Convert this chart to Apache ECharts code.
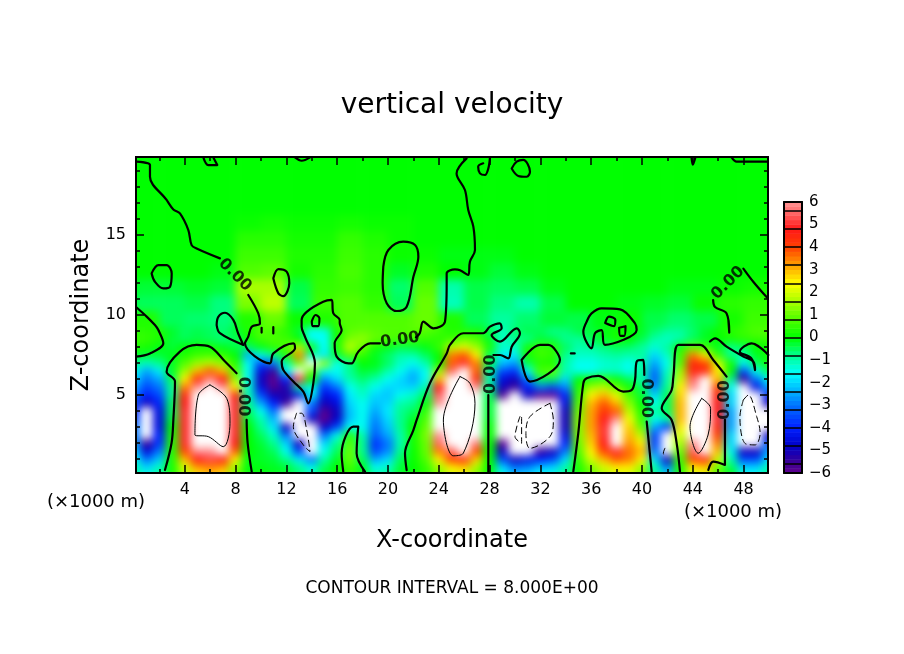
<!DOCTYPE html>
<html><head><meta charset="utf-8">
<style>html,body{margin:0;padding:0;background:#fff}#c{width:904px;height:654px}</style>
<script src="https://cdn.jsdelivr.net/npm/echarts@6/dist/echarts.min.js"></script>
</head><body><div id="c"></div>
<script>
// Vertical velocity, x = 0..50 (×1000 m), one row per z level
const w90=[0.4,0.4,0.3,-0.2,-0.5,-0.4,-0.5,-0.6,-0.3,0.3,0.8,0.6,0.4,-0.3,-1.6,-1.5,0.2,0.9,1,0.9,0.8,0.8,0.9,0.8,0.6,0.3,0.3,0.2,-0.4,-1.2,-0.6,-0.4,-0.5,-0.8,-0.7,-0.4,-0.3,-0.1,0.2,0,-0.2,-0.6,-0.9,-0.9,-0.6,-0.2,0.1,0.4,0.6,0.8,0.8];
const w85=[0.6,0.5,0.3,-0.3,-0.5,-0.4,-0.5,-0.7,-0.5,0.1,0.6,0.8,0.6,0,-1.5,-1.6,0.2,1.2,1.4,1,0.8,0.7,0.6,0.5,0.4,0.6,1,0.8,-0.2,-1.2,-0.8,-0.8,-0.3,-0.4,-0.8,-0.9,-0.5,-0.2,0.2,0,-0.4,-1,-1.2,-1,-0.5,-0.2,0,0.2,0.4,0.5,0.5];
const w80=[0.3,0.2,-0.1,-0.3,0,0.2,0.2,-0.1,-0.4,-0.6,-0.1,0.4,0.8,1.8,0.2,-1.6,0.3,1.8,1,0.2,-0.1,-0.4,-0.3,-0.1,0.5,1.8,2.2,1.5,0.3,-1.2,-1.2,0.2,0.6,0.4,-0.5,-1,-0.9,-0.7,-0.5,-0.6,-0.9,-1.3,-0.9,0.2,1,0.6,-0.2,-0.8,-0.5,0,0.1];
const w75=[-0.2,-0.3,-0.3,-0.1,0.3,0.6,0.7,0.5,0,-2.5,-1.5,-0.8,0.3,3.5,-1.2,-1.8,-0.3,0.8,0.5,-0.2,-0.6,-1,-1,-0.5,0,3.5,3.8,2.5,-0.5,-1.8,-1.8,0.2,0.6,0.5,-0.8,-1.2,-1.2,-1,-0.9,-1,-0.9,-2,-1.2,0.6,3.5,2.5,0.5,-0.8,-1,-0.2,0.1];
const w70=[-0.8,-1.2,-0.8,-0.2,0.8,1.5,1.8,1.4,0.4,-1.5,-3.5,-3,-1,1,6.5,1.5,-1.5,-0.8,0,-0.1,-0.5,-1.2,-1.5,-1,0.1,3.8,5,3.5,-0.3,-2.2,-2.6,-0.4,0.3,0.2,-1,-1.5,-1.5,-1.3,-1.2,-1.5,-1,-2.5,-1.5,0.8,4.5,4,2,0.2,-1.5,-0.5,0.2];
const w65=[-1.5,-2.5,-1.8,-0.2,1.5,3,3.8,3,0.8,-1.5,-4.5,-5.5,-1.5,6.5,1,-1.5,-1.5,-0.8,-0.3,-0.4,-1,-1.5,-2.2,-1.5,1.5,5.5,6.5,3.8,-1,-3.5,-3.8,-1.5,0.8,1,-1,-1.5,-1.5,-1.2,-1.2,-1.5,-0.8,-3,-1.2,1.5,4.5,4.5,2.5,0,-3.5,-1.5,-0.5];
const w60=[-2,-3,-2.5,-0.5,2.5,4.5,5.8,4.8,1.5,-1.5,-5,-6,-4,5,0,-2.8,-2,-1,-0.6,-1,-1.5,-2,-2.5,-1.5,3,6.5,8,4.5,-1,-4.5,-5,-3,-0.5,-0.5,-2,0,0.3,0.5,0.1,-0.5,-1,-3.2,-1,1.8,5.5,6.5,3,-0.8,-5.5,-3,-1.5];
const w55=[-2.5,-3.5,-3,-0.8,3.5,6,7.2,6,2.5,-1.2,-4.5,-5.8,-5.2,-1,-1.5,-3.8,-3,-1.5,-1,-1.5,-2,-2,-2,-1,4.8,7,8.2,6,-0.8,-5,-5.5,-4,-3,-3.5,-2.8,0.3,1.5,1.8,1,0.2,-0.5,-2.8,-0.8,2.5,6,6.5,4,-1.5,-6.5,-4.5,-2.5];
const w50=[-3,-4,-3.5,-0.8,4.5,7,8.2,7,4.5,-1,-3.5,-5,-5.2,-4.5,-1.5,-4.5,-4,-1.8,-1.2,-2,-2.2,-1.5,-1.2,-0.5,5.5,7.5,8.5,6.5,-0.5,-5.8,-6.5,-5,-6,-6,-4,0.5,2.5,3,2.2,0.8,-0.3,-2,-0.5,2.8,6.5,8,4.5,-2,-7,-6.5,-4];
const w45=[-3.5,-5,-4,-0.5,4.8,7.5,8.5,7.5,5,-0.8,-2.5,-4,-5.5,-6.5,-3,-5,-4.5,-2,-1.5,-2.2,-2,-1,-0.8,0,6,8,9,7,-0.3,-6.2,-7,-6.5,-7.5,-7,-4.5,0.8,3,3.8,3,1.3,0,-1.5,-0.5,3,6.8,8.5,4.8,-2,-7.5,-7.5,-5];
const w40=[-4,-6.5,-4.5,-0.5,5,7.5,8.8,8,5,-0.5,-1.5,-3,-6.5,-7.5,-3.5,-5.8,-5,-2.2,-1.5,-2.5,-1.8,-0.8,-0.5,0.5,6.2,8.2,9.2,7,-0.3,-6.2,-7.5,-7,-8,-7.5,-5,1,3.2,4.2,3.8,1.8,0.3,-1,-0.5,3,7,9,4.8,-2.5,-7.5,-8.5,-6.5];
const w35=[-3.5,-7,-4.5,-0.3,5,7.5,8.8,8.3,5,-0.3,-1,-2.3,-6.5,-8,-5,-6,-4.8,-2.2,-1.5,-2.8,-2,-0.8,-0.2,0.8,6.2,8.3,9.3,7,-0.2,-6.2,-8,-7.5,-8.5,-8,-5,1.2,3.2,4.8,6,2.3,0.5,-1.5,-1,3,7.2,9,5,-2.5,-7,-9,-6.5];
const w30=[-3,-7,-4.5,0,5,7.5,8.5,8.3,5,0,-0.8,-1.8,-5,-7.5,-7,-4.8,-3.5,-1.5,-1.5,-3,-2.2,-0.8,0,1,6.2,8.5,9.3,7,0,-6.2,-8.2,-8,-8.5,-8,-5,1.2,3.2,5,7,2.8,1,-2.5,-3.8,2.5,7,9,4.5,-2.5,-7,-9,-6.5];
const w25=[-3,-6.5,-4,0.2,5,7,7.8,8,5,0,-0.5,-1.2,-3,-6.8,-8,-3,-1.5,0.4,-1,-3.2,-2.5,-1,0.2,1.2,6,8,9,6.5,0,-6.2,-8.2,-8,-8,-7,-4.5,1.2,3,5,7.5,3,1.8,-3.5,-7,2,6.8,8.5,4,-2,-7,-8,-5];
const w20=[-2.5,-5.5,-3.8,0.3,5,7,6.8,7.5,4.8,0,-0.3,-0.8,-2,-5,-7.5,-2,-0.8,0.8,-0.8,-3.8,-3,-1,0.2,1,5.5,7.5,8,5.8,0,-6,-8,-7.5,-7,-6.5,-4,1,2.8,4.8,6.5,3.3,2.5,-3.5,-7.5,1.5,6,7.5,3.5,-2,-6.5,-7,-3.5];
const w15=[-2,-4.5,-3,0.3,4,6,6,6.5,3.8,0,-0.2,-0.5,-1.5,-3.5,-7,-1.5,-0.5,1,-0.8,-3.5,-2.8,-0.8,0.1,1,3.5,5.5,6.5,4,0,-5,-7,-6.5,-5.5,-5,-3,0.8,2.5,4,5,3.6,3,-3,-7,1,5.5,6.5,3,-1.5,-5,-5,-2.5];
const w10=[-1.5,-3,-2.2,0.3,3,4.8,5.2,4.8,2.5,-0.1,-0.2,-0.3,-0.8,-1.8,-3,-1,-0.2,1,-0.5,-2.5,-2,-0.5,0.1,0.8,2.5,4,4.5,2.8,0,-3.5,-5,-4.5,-4,-3.5,-2,0.5,2,3,3.8,3.5,2.5,-2,-5,0.6,4,4.5,2,-1,-3.5,-3.5,-2];
const w05=[-1,-2,-1.2,0.2,2,3.2,3.5,3.2,1.5,-0.1,-0.1,-0.2,-0.3,-0.8,-1.5,-0.5,0,0.6,-0.2,-1.5,-1.2,-0.3,0,0.5,1.5,2.5,2.8,1.6,0,-2,-3,-2.8,-2.2,-2,-1,0.3,1.2,2,2.5,2.5,1.5,-1,-2.8,0.3,2.5,2.8,1,-0.5,-2,-2,-1];
const w00=[-0.8,-1.4,-0.8,0.2,1.6,2.6,2.8,2.6,1.2,0,0,-0.1,-0.2,-0.6,-1,-0.3,0,0.4,-0.1,-1,-0.8,-0.2,0,0.4,1.2,2,2.2,1.2,0,-1.5,-2.2,-2,-1.6,-1.4,-0.8,0.2,1,1.6,2,2,1.2,-0.8,-2,0.2,2,2.2,0.8,0,-1.5,-1.5,-0.8];
const lowerField=[w00,w05,w10,w15,w20,w25,w30,w35,w40,w45,w50,w55,w60,w65,w70,w75,w80,w85,w90];
// Upper part, coarser: x = -1,1,...,51
const zero27=[0,0,0,0,0,0,0,0,0,0,0,0,0,0,0,0,0,0,0,0,0,0,0,0,0,0,0];
const u157=[0,0,0,0,0,.1,.2,.1,.1,.2,.1,.1,0,0,0,0,0,0,0,0,0,0,0,0,0,0,0];
const u147=[0,0,0,0,0,.4,.4,.2,.2,.5,.3,.1,0,0,0,0,0,0,0,0,0,0,0,0,0,0,0];
const u137=[0,0,0,0,0,.6,.6,.3,.3,.6,.4,.1,.1,-.1,-.1,-.1,0,0,0,0,0,0,0,0,0,0,0];
const u127=[0,0,0,0,-.1,.8,.9,.2,.4,.7,.4,-.2,.3,0,-.1,-.3,-.1,0,0,0,0,0,0,0,0,0,0];
const u117=[-.1,-.3,-.3,-.2,-.3,1.6,1.6,-.4,.5,.6,.4,-.6,.8,-1,-.4,-.5,-.4,-.1,0,0,0,0,-.1,-.1,.1,.2,.2];
const u107=[-.2,-.5,-.5,-.4,-.7,1.2,1.8,-.5,.6,.8,.5,-.5,1,-1.1,-.4,-.7,-1,-.4,0,0,-.1,-.2,-.3,.1,.4,.5,.5];
const u97=[.3,.3,-.5,-.6,-.7,.3,1,.1,.3,.8,.8,.8,1,.3,-.5,-.9,-.6,-.3,-.4,-.1,.1,-.4,-.6,-.4,.2,.6,.6];
const upperField=[u97,u107,u117,u127,u137,u147,u157,zero27,zero27,zero27,zero27,zero27];
// Colour bar
const barLevels=[-5.9,-5.7,-5.5,-5.3,-5.1,-4.9,-4.7,-4.5,-4.3,-4.1,-3.9,-3.7,-3.5,-3.3,-3.1,-2.9,-2.7,-2.5,-2.3,-2.1,-1.9,-1.7,-1.5,-1.3,-1.1,-0.9,-0.7,-0.5,-0.3,-0.1,0.1,0.3,0.5,0.7,0.9,1.1,1.3,1.5,1.7,1.9,2.1,2.3,2.5,2.7,2.9,3.1,3.3,3.5,3.7,3.9,4.1,4.3,4.5,4.7,4.9,5.1,5.3,5.5,5.7,5.9];
const barBounds=[-5.6,-4.8,-4,-3.2,-2.4,-1.6,-0.8,0,0.8,1.6,2.4,3.2,4,4.8,5.6];
const barLabels=[-6,-5,-4,-3,-2,-1,0,1,2,3,4,5,6];
// Colours every 0.8 from -10.4 to 10.4; the outer ones stay unused beyond the ±6 limit
const colorStops=['#800090','#800090','#800090','#800090','#800090','#800090','#400090','#0000c8','#0020ff','#0060ff','#00b0ff','#00ffff','#00ff90','#00ff00','#50ff00','#a8ff00','#ffff00','#ffa000','#ff4000','#ff1818','#ff7070','#ffb8b8','#ffb8b8','#ffb8b8','#ffb8b8','#ffb8b8','#ffb8b8'];
// Axis ticks
const xMajor=[4,8,12,16,20,24,28,32,36,40,44,48];
const xMinor=[2,6,10,14,18,22,26,30,34,38,42,46];
const zMajor=[5,10,15];
const zMinor=[1,2,3,4,6,7,8,9,11,12,13,14,16,17,18,19];
// Zero contours (thick), [x,z]
const c1=[[2.44,.31],[2.96,2],[3.1,3.44],[3.23,5.84],[2.57,6.46],[3.62,7.71],[4.93,8.13],[5.98,8.02],[7.17,7.09],[8.08,6.36]];
const c2=[[8.87,3.44],[8.95,2],[9.27,.21]];
const c3=[[.16,10.5],[1,9.9],[1.65,9.37],[1.92,9.06],[2.31,8.23],[1.26,7.6],[.16,7.4]];
const c4=[[.21,19.58],[1.26,19.37],[1.26,18.64],[2.57,17.19],[3.1,16.6],[3.62,16.35],[4.28,15.31],[4.54,14.37],[4.93,14.16],[6.77,13.54]];
const c5=[[9,11.25],[9.79,10.1],[9.92,9.47],[9.27,9.27],[9,8.65],[8.74,8.23],[10.7,6.98],[10.97,7.6],[12.55,8.23],[12.68,7.92],[11.63,7.1],[11.76,6.56],[12.55,5.84],[13.33,5.21],[13.73,4.48],[14.12,5.73],[14.25,6.98],[13.46,8.65],[13.2,9.27],[13.2,9.68],[13.6,10.2],[14.9,10.83],[15.56,10.94],[15.7,10.1],[16.2,9.69],[16.2,9.5],[16.35,9.06],[15.8,8.23],[15.96,7.4],[16.9,6.98],[17.14,6.98],[17.66,7.71],[18.6,8.23],[19.37,8.23]];
const c6=[[22.2,8.6],[22.5,8.86],[22.78,9.59],[23.57,9.17],[24.49,9.58],[24.62,11.98],[24.62,12.6],[25.27,12.85],[25.67,12.8],[26.32,12.5],[26.45,13.33],[26.85,14.06],[26.72,15.52],[26.32,16.56],[26.06,17.81],[25.4,18.85],[26.19,19.79]];
const c7=[[21.47,.31],[21.34,1.36],[22,2.81],[22.26,3.44],[23.3,5.73],[24.62,7.6],[24.88,8.13],[25.93,8.86],[27.5,8.86],[28.03,9.27],[28.8,9.48],[28.95,9.17],[28.16,8.75],[28.82,8.34],[30.13,9.17],[30.39,8.86],[29.74,8.02],[29.47,7.29],[28.82,7.5],[28.3,7.5]];
const c8=[[27.9,5],[27.9,.21]];
const c9=[[30.52,7.19],[31.97,8.13],[32.62,8.13],[33.54,7.19],[31.18,5.84],[30.52,7.19]];
const c10=[[35.64,9.58],[35.38,8.96],[36.03,7.92],[36.3,8.86],[36.82,9.06],[37.08,8.13],[39.58,9.06],[39.45,9.48],[38.27,10.35],[36.82,10.41],[36.03,10.1],[35.64,9.58]];
const c11=[[37.1,9.5],[37.8,9.3],[37.9,9.7],[37.4,9.9],[37.1,9.5]];
const c12=[[38.2,9.2],[38.7,9.3],[38.6,8.7],[38.3,8.7],[38.2,9.2]];
const c13=[[34.59,.21],[34.98,2.6],[35.38,5.73],[35.64,6.04],[36.56,6.19],[38.53,5.21],[39.18,5.3],[39.45,5.94],[39.58,7.09],[40.1,7.19],[40.18,6.25]];
const c14=[[40.37,3.34],[40.76,.21]];
const c15=[[42.99,.21],[42.73,1.98],[42.33,3.44],[41.55,4.17],[42.33,5.3],[42.47,6.15],[42.86,8.13],[44.57,8.13],[45.61,7.19],[46.66,6.15]];
const c16=[[46.53,3.44],[46.53,.63],[45.61,.84],[45.22,.31]];
const c17=[[45.35,8.34],[45.75,8.54],[46.66,8.02],[47.98,7.4],[48.76,7.09],[48.9,6.56],[48.6,7.3],[47.7,7.71],[48.63,8.23],[49.95,7.5]];
const c18=[[46.8,9.69],[46.87,8.9],[46.66,10.1],[45.75,10.5],[45.6,10.93]];
const c19=[[47.98,12.9],[48.76,12.08],[49.9,11.04]];
const c20=[[47.06,19.85],[47.45,19.58],[49.9,19.58]];
const c21=[[43.9,19.85],[44,19.4],[44.2,19.85]];
const c22=[[28.03,19.85],[27.9,19.16],[27.64,18.75],[27.24,18.85],[27.1,19.27],[27.5,19.48]];
const c23=[[29.74,19.16],[30.13,19.58],[30.65,19.69],[31.18,18.96],[30.92,18.64],[30.26,18.69],[29.74,19.16]];
const c24=[[5.46,19.85],[5.85,19.37],[6.56,19.37],[6.25,19.85]];
const c25=[[12.68,19.85],[13.2,19.64],[13.86,19.85]];
const c26=[[1.39,12.6],[1.92,13.12],[2.57,13.12],[2.97,12.6],[2.84,11.77],[2.31,11.66],[1.65,12.08],[1.39,12.6]];
const c27=[[10.97,12.29],[11.37,12.87],[12.02,12.71],[12.23,11.98],[11.76,11.18],[11.37,11.35],[10.97,12.29]];
const c28=[[19.63,13.02],[20.03,14.06],[21.2,14.58],[22.13,14.37],[22.39,13.64],[22,12.39],[21.47,10.52],[20.68,10.25],[19.9,10.73],[19.58,11.98],[19.63,13.02]];
const c29=[[14,9.6],[14.3,10],[14.6,9.8],[14.5,9.3],[14.1,9.3],[14,9.6]];
const c30=[[10.05,9.2],[10.05,8.9]];
const c31=[[10.97,9.25],[10.97,8.85]];
const c32=[[6.51,9.37],[6.64,9.89],[7.17,10.14],[7.82,9.69],[8.2,8.86],[8.61,8.13],[6.77,8.86],[6.51,9.37]];
const c33=[[16.48,.21],[16.35,1.36],[17.27,3.02],[17.66,3.02],[17.53,1.36],[18.19,.21]];
const c34=[[34.4,7.6],[34.7,7.6]];
const thick=[c1,c2,c3,c4,c5,c6,c7,c8,c9,c10,c11,c12,c13,c14,c15,c16,c17,c18,c19,c20,c21,c22,c23,c24,c25,c26,c27,c28,c29,c30,c31,c32,c33,c34];
// +8 contours (thin solid)
const p1=[[5.98,5.63],[5.07,5],[4.8,2.5],[5.85,2.4],[7.03,1.77],[7.56,3.23],[7.3,4.79],[5.98,5.63]];
const p2=[[25.67,6.15],[24.36,3.44],[25.14,1.2],[25.93,1.36],[26.85,4.48],[26.45,5.73],[25.67,6.15]];
const p3=[[44.7,4.79],[43.78,3.02],[44.43,1.36],[45.2,2.5],[45.4,4.17],[44.7,4.79]];
// -8 contours (thin dashed)
const n1=[[12.8,3.86],[12.55,3.02],[13.33,1.88],[13.86,1.46],[13.6,2.81],[13.2,3.86],[12.8,3.86]];
const n2=[[30.39,3.65],[30,2.4],[30.52,1.98],[30.52,3.65]];
const n3=[[32.75,4.48],[31.18,3.65],[30.86,2.6],[31.18,1.67],[32.75,2.4],[33.02,3.44],[32.75,4.48]];
const n4=[[41.8,1.67],[41.68,1.36],[41.8,1.15]];
const n5=[[47.98,4.69],[47.71,3.65],[48.1,1.98],[48.9,1.88],[49.3,2.6],[49.03,3.65],[48.37,5],[47.98,4.69]];
// Contour labels [x,z,rotation]
const contourLabels=[[7.95,12.5,-45],[8.6,4.9,-90],[20.94,8.44,8],[28.1,6.3,90],[40.3,4.8,-90],[46.5,4.69,90],[46.77,12,45]];

const FONT='DejaVu Sans';
const heat0=[];lowerField.forEach((r,j)=>r.forEach((v,i)=>heat0.push([i,j,v])));
const heat1=[];upperField.forEach((r,j)=>r.forEach((v,i)=>heat1.push([i,j,v])));
const xIdx=n=>Array.from({length:n},(_,i)=>String(i));
const XMIN=0.16,XMAX=49.92,ZMIN=0.125,ZMAX=19.875;
const hidden={show:false};
function valX(pos,vals,len,lab){return {type:'value',gridIndex:2,position:pos,min:XMIN,max:XMAX,zlevel:1,z:5,splitLine:hidden,
  axisLine:{show:true,onZero:false,lineStyle:{color:'#000',width:2}},
  axisTick:{show:true,inside:true,length:len,customValues:vals,lineStyle:{color:'#000',width:1.5}},
  axisLabel:lab?{show:true,customValues:vals,color:'#000',fontFamily:FONT,fontSize:16,margin:9}:hidden};}
function valY(pos,vals,len,lab){return {type:'value',gridIndex:2,position:pos,min:ZMIN,max:ZMAX,zlevel:1,z:5,splitLine:hidden,
  axisLine:{show:true,onZero:false,lineStyle:{color:'#000',width:2}},
  axisTick:{show:true,inside:true,length:len,customValues:vals,lineStyle:{color:'#000',width:1.5}},
  axisLabel:lab?{show:true,customValues:vals,color:'#000',fontFamily:FONT,fontSize:16,margin:10}:hidden};}
function frameX(pos){return {type:'value',gridIndex:3,position:pos,min:0,max:1,zlevel:1,z:5,splitLine:hidden,axisTick:hidden,axisLabel:hidden,
  axisLine:{show:true,onZero:false,lineStyle:{color:'#000',width:2}}};}
const xA=[
 {type:'category',gridIndex:0,data:xIdx(51),show:false},
 {type:'category',gridIndex:1,data:xIdx(27),show:false},
 Object.assign(valX('bottom',xMajor,8,true),{name:'X-coordinate',nameLocation:'middle',nameGap:56,nameTextStyle:{fontFamily:FONT,fontSize:24,color:'#000'}}),
 valX('bottom',xMinor,4,false),valX('top',xMajor,8,false),valX('top',xMinor,4,false),
 {type:'category',gridIndex:3,data:['0'],show:false},
 frameX('bottom'),frameX('top')
];
const yA=[
 {type:'category',gridIndex:0,data:xIdx(19),show:false},
 {type:'category',gridIndex:1,data:xIdx(12),show:false},
 Object.assign(valY('left',zMajor,8,true),{name:'Z-coordinate',nameLocation:'middle',nameGap:42,nameTextStyle:{fontFamily:FONT,fontSize:24,color:'#000'}}),
 valY('left',zMinor,4,false),valY('right',zMajor,8,false),valY('right',zMinor,4,false),
 {type:'category',gridIndex:3,data:barLevels.map(String),show:false},
 {type:'value',gridIndex:3,position:'right',min:-6,max:6,zlevel:1,z:5,splitLine:hidden,
  axisLine:{show:true,onZero:false,lineStyle:{color:'#000',width:2}},
  axisTick:{show:true,inside:true,length:18,customValues:barBounds,lineStyle:{color:'#000',width:1.5}},
  axisLabel:{show:true,customValues:barLabels,color:'#000',fontFamily:FONT,fontSize:15,margin:7,
   formatter:v=>String(v).replace('-','\u2212')}},
 {type:'value',gridIndex:3,position:'left',min:-6,max:6,zlevel:1,z:5,splitLine:hidden,axisTick:hidden,axisLabel:hidden,
  axisLine:{show:true,onZero:false,lineStyle:{color:'#000',width:2}}}
];
const lineSeries=(d,w,type)=>({type:'line',xAxisIndex:2,yAxisIndex:2,data:d,zlevel:1,symbol:'none',silent:true,animation:false,smooth:0.35,
  lineStyle:{color:'#000',width:w,type:type||'solid',cap:'round',join:'round'}});
const series=[
 {type:'heatmap',xAxisIndex:0,yAxisIndex:0,data:heat0,zlevel:0,silent:true,progressive:0,animation:false},
 {type:'heatmap',xAxisIndex:1,yAxisIndex:1,data:heat1,zlevel:0,silent:true,progressive:0,animation:false},
 {type:'heatmap',xAxisIndex:6,yAxisIndex:6,data:barLevels.map((v,i)=>[0,i,v]),zlevel:1,silent:true,progressive:0,animation:false},
 ...thick.map(d=>lineSeries(d,2.2)),
 ...[p1,p2,p3].map(d=>lineSeries(d,1)),
 ...[n1,n2,n3,n4,n5].map(d=>lineSeries(d,1,[6,4])),
 {type:'scatter',xAxisIndex:2,yAxisIndex:2,zlevel:1,symbolSize:0,silent:true,animation:false,
  data:contourLabels.map(a=>({value:[a[0],a[1]],label:{show:true,position:'inside',rotate:a[2],formatter:'0.00',color:'#000',fontFamily:FONT,fontWeight:'bold',fontSize:16}}))}
];
const chart=echarts.init(document.getElementById('c'),null,{width:904,height:654});
const txt=(text,left,top,size,align)=>({text,left,top,zlevel:1,padding:0,textAlign:align||'center',textStyle:{fontFamily:FONT,fontWeight:'normal',fontSize:size,color:'#000'}});
chart.setOption({
 animation:false,backgroundColor:'transparent',
 title:[txt('vertical velocity',452,92,28),txt('(\u00d71000 m)',96,493,18),txt('(\u00d71000 m)',733,503,18),txt('CONTOUR INTERVAL = 8.000E+00',452,580,17)],
 grid:[
  {left:127.65,top:327,width:647.7,height:152,containLabel:false},
  {left:108.6,top:135,width:685.8,height:192},
  {left:136,top:157,width:632,height:316},
  {left:784,top:202,width:18,height:271}
 ],
 xAxis:xA,yAxis:yA,
 visualMap:{show:false,type:'continuous',seriesIndex:[0,1,2],dimension:2,min:-10.4,max:10.4,range:[-6.05,6.05],inRange:{color:colorStops},outOfRange:{color:'#ffffff'}},
 series
});
const heatLayer=chart.getDom().querySelector('canvas[data-zr-dom-id="zr_0"]');
if(heatLayer){heatLayer.style.filter='blur(4px)';heatLayer.style.clipPath='inset(157px 136px 181px 136px)';}
</script></body></html>
